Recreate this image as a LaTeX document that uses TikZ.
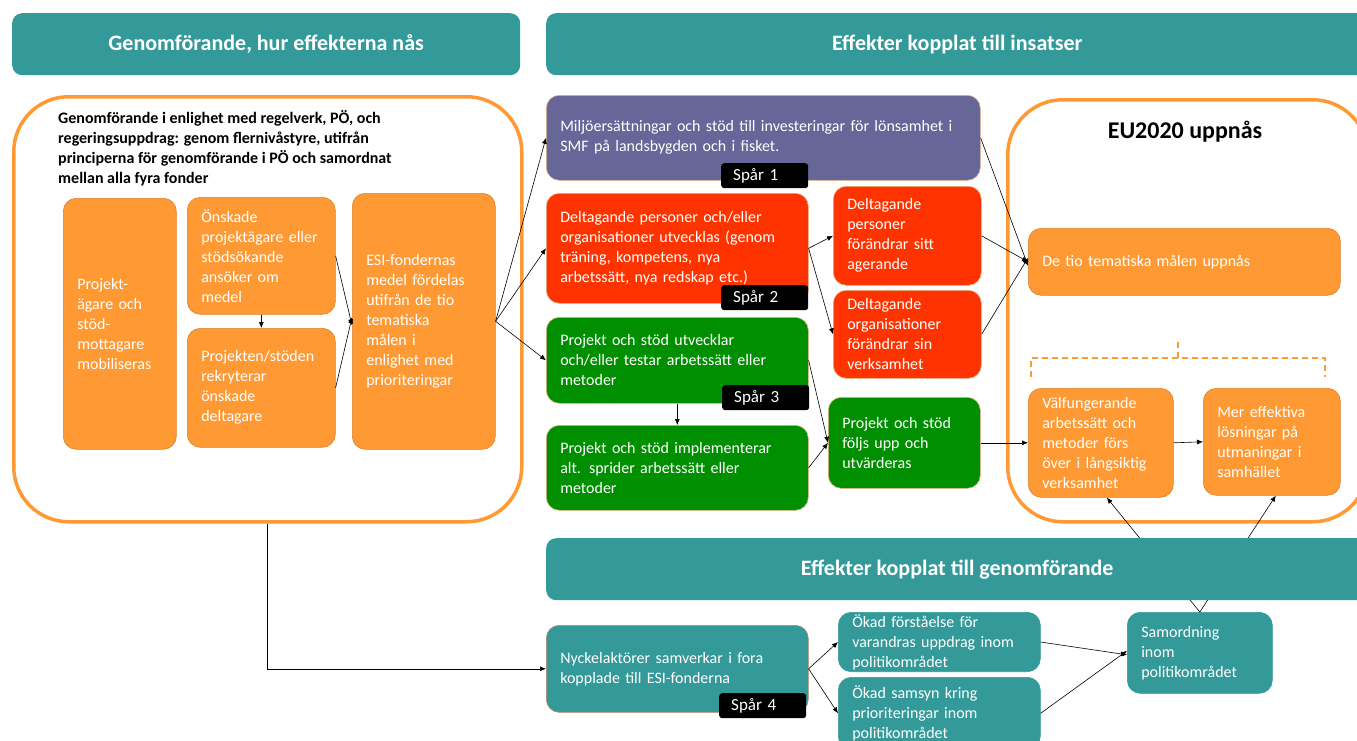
\documentclass[tikz,border=0pt]{standalone}
\usepackage{fontspec}
\setmainfont{Carlito}
\usetikzlibrary{arrows.meta}

\definecolor{tealc}{RGB}{51,153,153}
\definecolor{orangec}{RGB}{255,153,51}
\definecolor{purplec}{RGB}{102,102,153}
\definecolor{redc}{RGB}{255,51,0}
\definecolor{greenc}{RGB}{0,143,0}
\definecolor{edgec}{RGB}{226,176,128}

\tikzset{
  sz/.style 2 args={minimum width=#1pt, minimum height=#2pt, text width=#1pt-28pt},
  box/.style={anchor=north west, rounded corners=13pt, draw=edgec, line width=0.6pt,
    text=white, align=left, inner xsep=14pt, inner ysep=2pt,
    font=\fontsize{16}{20}\selectfont},
  obox/.style={box, fill=orangec, draw=orangec!85!black},
  pbox/.style={box, fill=purplec},
  rbox/.style={box, fill=redc},
  gbox/.style={box, fill=greenc},
  tbox/.style={box, fill=tealc, draw=tealc},
  bigbox/.style={anchor=north west, rounded corners=55pt, draw=orangec, line width=3.5pt, fill=white},
  banner/.style={anchor=north west, rounded corners=10pt, fill=tealc, text=white,
    font=\fontsize{22}{26}\bfseries\selectfont},
  spar/.style={anchor=north west, fill=black, rounded corners=3pt, text=white, align=left,
    text width=63pt, inner xsep=12pt, inner ysep=0pt, minimum height=25pt,
    font=\fontsize{17}{20}\selectfont},
  arr/.style={-{Latex[length=6pt,width=5pt]}, line width=0.6pt}
}

\begin{document}
\begin{tikzpicture}[x=1pt,y=1pt,yscale=-1,xscale=1]
\useasboundingbox (0,0) rectangle (1357,740);
\clip (0,0) rectangle (1357,740);

% Banners
\node[banner, minimum width=508pt, minimum height=62pt] (hdrgen) at (12,13) {Genomförande, hur effekterna nås};
\node[banner, minimum width=822pt, minimum height=62pt] (hdrins) at (546,13) {Effekter kopplat till insatser};

% Left frame
\node[bigbox, minimum width=508pt, minimum height=425pt] (genom) at (12,95) {};
\node[anchor=north west, inner sep=0pt, align=left, font=\fontsize{16}{20}\bfseries\selectfont] (gtitle) at (58,110)
  {Genomförande i enlighet med regelverk, PÖ, och\\regeringsuppdrag: genom flernivåstyre, utifrån\\principerna för genomförande i PÖ och samordnat\\mellan alla fyra fonder};

\node[obox, sz={113}{251}] (mobil) at (63,198) {Projekt-\\ägare och\\stöd-\\mottagare\\mobiliseras};
\node[obox, sz={148}{117}] (ansok) at (187,197) {Önskade\\projektägare eller\\stödsökande\\ansöker om\\medel};
\node[obox, sz={148}{119}] (rekryt) at (187,328) {Projekten/stöden\\rekryterar\\önskade\\deltagare};
\node[obox, sz={143}{256}] (esi) at (352,193) {ESI-fondernas\\medel fördelas\\utifrån de tio\\tematiska\\målen i\\enlighet med\\prioriteringar};

% Right frame
\node[bigbox, minimum width=360pt, minimum height=422pt] (eu) at (1006,98) {};
\node[font=\fontsize{24}{28}\bfseries\selectfont] (eutitle) at (1185,132) {EU2020 uppnås};
\node[obox, sz={312}{67}] (detio) at (1028,228) {De tio tematiska målen uppnås};
\node[obox, sz={145}{109}] (valf) at (1028,388) {Välfungerande\\arbetssätt och\\metoder förs\\över i långsiktig\\verksamhet};
\node[obox, sz={137}{107}] (mer) at (1203,388) {Mer effektiva\\lösningar på\\utmaningar i\\samhället};
\draw[orangec, line width=1.2pt, dash pattern=on 6pt off 4pt] (1031,377) -- (1031,358) -- (1325,358) -- (1325,377);
\draw[orangec, line width=1.2pt, dash pattern=on 6pt off 4pt] (1178,358) -- (1178,340);

% Middle column
\node[pbox, sz={434}{85}] (milj) at (546,95) {Miljöersättningar och stöd till investeringar för lönsamhet i\\SMF på landsbygden och i fisket.};
\node[rbox, sz={262}{110}] (deltag) at (546,193) {Deltagande personer och/eller\\organisationer utvecklas (genom\\träning, kompetens, nya\\arbetssätt, nya redskap etc.)};
\node[gbox, sz={262}{86}] (utv) at (546,317) {Projekt och stöd utvecklar\\och/eller testar arbetssätt eller\\metoder};
\node[gbox, sz={262}{85}] (impl) at (546,425) {Projekt och stöd implementerar\\alt. sprider arbetssätt eller\\metoder};
\node[rbox, sz={148}{99}] (pers) at (833,186) {Deltagande\\personer\\förändrar sitt\\agerande};
\node[rbox, sz={148}{88}] (org) at (833,290) {Deltagande\\organisationer\\förändrar sin\\verksamhet};
\node[gbox, sz={152}{91}] (foljs) at (828,397) {Projekt och stöd\\följs upp och\\utvärderas};

% Bottom row
\node[tbox, sz={262}{87}, draw=edgec!80!black] (nyck) at (546,625) {Nyckelaktörer samverkar i fora\\kopplade till ESI-fonderna};
\node[tbox, sz={202}{58}] (okf) at (838,612) {Ökad förståelse för\\varandras uppdrag inom\\politikområdet};
\node[tbox, sz={202}{72}] (oks) at (838,677) {Ökad samsyn kring\\prioriteringar inom\\politikområdet};
\node[tbox, sz={145}{81}] (samo) at (1127,612) {Samordning\\inom\\politikområdet};

% Connectors
\draw[arr] (ansok.south) -- (rekryt.north);
\draw[arr] (ansok.east) -- ([yshift=4pt]esi.west);
\draw[arr] (rekryt.east) -- ([yshift=-4pt]esi.west);
\draw[arr] (esi.east) -- (milj.west);
\draw[arr] (esi.east) -- (deltag.west);
\draw[arr] (esi.east) -- (utv.west);
\draw[arr] (utv.south) -- (impl.north);
\draw[arr] (deltag.east) -- (pers.west);
\draw[arr] (deltag.east) -- (org.west);
\draw[arr] (utv.east) -- (foljs.west);
\draw[arr] (impl.east) -- (foljs.west);
\draw[arr] (milj.east) -- ([yshift=4pt]detio.west);
\draw[arr] (pers.east) -- (detio.west);
\draw[arr] (org.east) -- ([yshift=-4pt]detio.west);
\draw[arr] (foljs.east) -- (valf.west);
\draw[arr] (valf.east) -- (mer.west);
\draw[arr] (genom.south) |- (nyck.west);
\draw[arr] (nyck.east) -- (okf.west);
\draw[arr] (nyck.east) -- (oks.west);
\draw[arr] (okf.east) -- ([yshift=2pt]samo.west);
\draw[arr] (oks.east) -- ([yshift=-2pt]samo.west);
\draw[arr] (samo.north) -- ([xshift=6pt]valf.south);
\draw[arr] (samo.north) -- ([xshift=4pt]mer.south);

\node[banner, minimum width=822pt, minimum height=62pt] (hdrgen2) at (546,538) {Effekter kopplat till genomförande};

% Spår labels
\node[spar] (spar1) at (721,163) {Spår 1};
\node[spar] (spar2) at (721,285) {Spår 2};
\node[spar] (spar3) at (722,385) {Spår 3};
\node[spar] (spar4) at (719,693) {Spår 4};

\end{tikzpicture}
\end{document}
